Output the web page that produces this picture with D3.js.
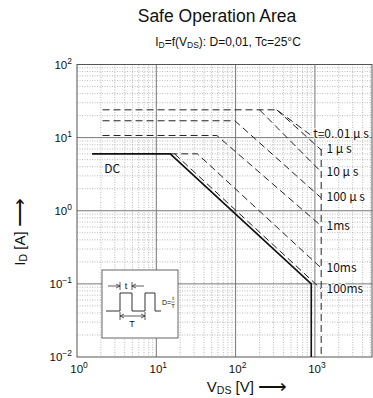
<!DOCTYPE html>
<html>
<head>
<meta charset="utf-8">
<script src="https://cdn.jsdelivr.net/npm/d3@7"></script>
<style>
body{margin:0;background:#fff;}
text{font-family:"Liberation Sans",Arial,sans-serif;fill:#111;}
.lbl{font-family:"Noto Sans CJK JP","DejaVu Sans",sans-serif;font-size:12px;}
</style>
</head>
<body>
<svg id="chart" width="373" height="398"></svg>
<script>
// values (V in volts, I in amps)
const xDecades = [1, 10, 100, 1000]
const yDecades = [0.01, 0.1, 1, 10, 100]
const xExp = ["0", "1", "2", "3"]
const yExp = ["\u22122", "\u22121", "0", "1", "2"]

const dcLine = [[1.55, 6], [15, 6], [900, 0.1], [900, 0.01]]
const pulseNames = ["t=0. 01 \u03bc s", "1 \u03bc s", "10 \u03bc s", "100 \u03bc s", "1ms", "10ms", "100ms"]
const pulse001us = [[2.1, 24], [330, 24], [870, 11]]
const pulse1us = [[330, 24], [1200, 6.8]]
const pulse10us = [[200, 24], [1200, 3.4]]
const pulse100us = [[2.1, 17], [98, 17], [1200, 1.5]]
const pulse1ms = [[2.1, 10.7], [58, 10.7], [1200, 0.62]]
const pulse10ms = [[15, 6], [33, 6], [1200, 0.165]]
const pulse100ms = [[17, 6], [1200, 0.085]]
const limitLine = [[1200, 7], [1200, 0.01]]
const labelV = [950, 1400, 1400, 1400, 1400, 1400, 1400]
const labelI = [11.2, 6.9, 3.4, 1.55, 0.62, 0.165, 0.085]

const svg = d3.select("#chart")
const x = d3.scaleLog().domain([1, 5250]).range([77, 372])
const y = d3.scaleLog().domain([0.01, 100]).range([357, 64.5])

// grid
const minorX = []
for (let d = 1; d <= 1000; d *= 10) for (let k = 2; k <= 9; k++) if (d * k < 5250) minorX.push(d * k)
const minorY = []
for (let d = 0.01; d < 100; d *= 10) for (let k = 2; k <= 9; k++) minorY.push(d * k)

const grid = svg.append("g")
grid.selectAll(".mx").data(minorX).enter().append("line")
    .attr("x1", d => x(d)).attr("x2", d => x(d)).attr("y1", y(100)).attr("y2", y(0.01))
    .attr("stroke", "#aaa").attr("stroke-width", 0.8).attr("stroke-dasharray", "1,1.5")
grid.selectAll(".my").data(minorY).enter().append("line")
    .attr("y1", d => y(d)).attr("y2", d => y(d)).attr("x1", x(1)).attr("x2", x(5250))
    .attr("stroke", "#aaa").attr("stroke-width", 0.8).attr("stroke-dasharray", "1,1.5")
grid.selectAll(".Mx").data(xDecades.slice(1)).enter().append("line")
    .attr("x1", d => x(d)).attr("x2", d => x(d)).attr("y1", y(100)).attr("y2", y(0.01))
    .attr("stroke", "#777").attr("stroke-width", 1)
grid.selectAll(".My").data(yDecades.slice(1, 4)).enter().append("line")
    .attr("y1", d => y(d)).attr("y2", d => y(d)).attr("x1", x(1)).attr("x2", x(5250))
    .attr("stroke", "#777").attr("stroke-width", 1)
svg.append("rect").attr("x", x(1)).attr("y", y(100))
   .attr("width", x(5250) - x(1)).attr("height", y(0.01) - y(100))
   .attr("fill", "none").attr("stroke", "#555").attr("stroke-width", 1)

// curves
const line = d3.line().x(d => x(d[0])).y(d => y(d[1]))
const pulses = [pulse001us, pulse1us, pulse10us, pulse100us, pulse1ms, pulse10ms, pulse100ms, limitLine]
svg.selectAll(".pulse").data(pulses).enter().append("path")
   .attr("d", line).attr("fill", "none").attr("stroke", "#222")
   .attr("stroke-width", 1).attr("stroke-dasharray", "7,4")
svg.append("path").attr("d", line(dcLine)).attr("fill", "none")
   .attr("stroke", "#111").attr("stroke-width", 1.6)

svg.append("text").attr("class", "lbl").attr("x", x(2.2)).attr("y", y(6) + 19).text("DC")
svg.selectAll(".pl").data(pulseNames).enter().append("text")
   .attr("class", "lbl")
   .attr("x", (d, i) => x(labelV[i]))
   .attr("y", (d, i) => y(labelI[i]) + 4)
   .attr("paint-order", "stroke").attr("stroke", "#fff").attr("stroke-width", 2)
   .text(d => d)

// tick labels
const yt = svg.selectAll(".yt").data(yDecades).enter().append("text")
   .attr("x", 72).attr("y", d => y(d) + 4).attr("text-anchor", "end").attr("font-size", 11.5)
yt.append("tspan").text("10")
yt.append("tspan").attr("dy", -5).attr("font-size", 8.5).text((d, i) => yExp[i])
const xt = svg.selectAll(".xt").data(xDecades).enter().append("text")
   .attr("x", d => x(d) + 2).attr("y", 373).attr("text-anchor", "middle").attr("font-size", 11.5)
xt.append("tspan").text("10")
xt.append("tspan").attr("dy", -5).attr("font-size", 8.5).text((d, i) => xExp[i])

// titles
svg.append("text").attr("x", 217).attr("y", 22).attr("text-anchor", "middle")
   .attr("font-size", 17.5).text("Safe Operation Area")
const sub = svg.append("text").attr("x", 228).attr("y", 46).attr("text-anchor", "middle").attr("font-size", 12)
sub.append("tspan").text("I")
sub.append("tspan").attr("font-size", 8.5).attr("dy", 2).text("D")
sub.append("tspan").attr("dy", -2).text("=f(V")
sub.append("tspan").attr("font-size", 8.5).attr("dy", 2).text("DS")
sub.append("tspan").attr("dy", -2).text("): D=0,01, Tc=25\u00b0C")

const xl = svg.append("text").attr("x", 247).attr("y", 392).attr("text-anchor", "middle").attr("font-size", 15)
xl.append("tspan").text("V")
xl.append("tspan").attr("font-size", 10.5).attr("dy", 2).text("DS")
xl.append("tspan").attr("dy", -2).text(" [V]  ")
xl.append("tspan").attr("font-size", 20).attr("dy", 1).text("\u27f6")

const yl = svg.append("text").attr("transform", "translate(25,232) rotate(-90)")
   .attr("text-anchor", "middle").attr("font-size", 15)
yl.append("tspan").text("I")
yl.append("tspan").attr("font-size", 10.5).attr("dy", 2).text("D")
yl.append("tspan").attr("dy", -2).text(" [A]  ")
yl.append("tspan").attr("font-size", 20).attr("dy", 1).text("\u27f6")

// inset pulse sketch
const ins = svg.append("g")
ins.append("rect").attr("x", 102).attr("y", 270).attr("width", 76).attr("height", 68)
   .attr("fill", "#fff").attr("stroke", "#666").attr("stroke-width", 1)
ins.append("path").attr("d", "M106,311H120V293H132V311H145V293H155V311H161")
   .attr("fill", "none").attr("stroke", "#333").attr("stroke-width", 1)
ins.append("path").attr("d", "M108,286H120M116,284L120,286L116,288M120,282V290M132,286H144M136,284L132,286L136,288M132,282V290")
   .attr("fill", "none").attr("stroke", "#333").attr("stroke-width", 0.8)
ins.append("text").attr("x", 126).attr("y", 289).attr("text-anchor", "middle").attr("font-size", 9).text("t")
ins.append("path").attr("d", "M120,316H145M124,314L120,316L124,318M141,314L145,316L141,318M120,312V320M145,312V320")
   .attr("fill", "none").attr("stroke", "#333").attr("stroke-width", 0.8)
ins.append("text").attr("x", 132).attr("y", 327).attr("text-anchor", "middle").attr("font-size", 9).text("T")
ins.append("text").attr("x", 162).attr("y", 305).attr("font-size", 7).text("D=")
ins.append("text").attr("x", 173).attr("y", 300).attr("text-anchor", "middle").attr("font-size", 6).text("t")
ins.append("line").attr("x1", 171).attr("x2", 175).attr("y1", 302).attr("y2", 302).attr("stroke", "#333").attr("stroke-width", 0.5)
ins.append("text").attr("x", 173).attr("y", 308).attr("text-anchor", "middle").attr("font-size", 6).text("T")
</script>
</body>
</html>
